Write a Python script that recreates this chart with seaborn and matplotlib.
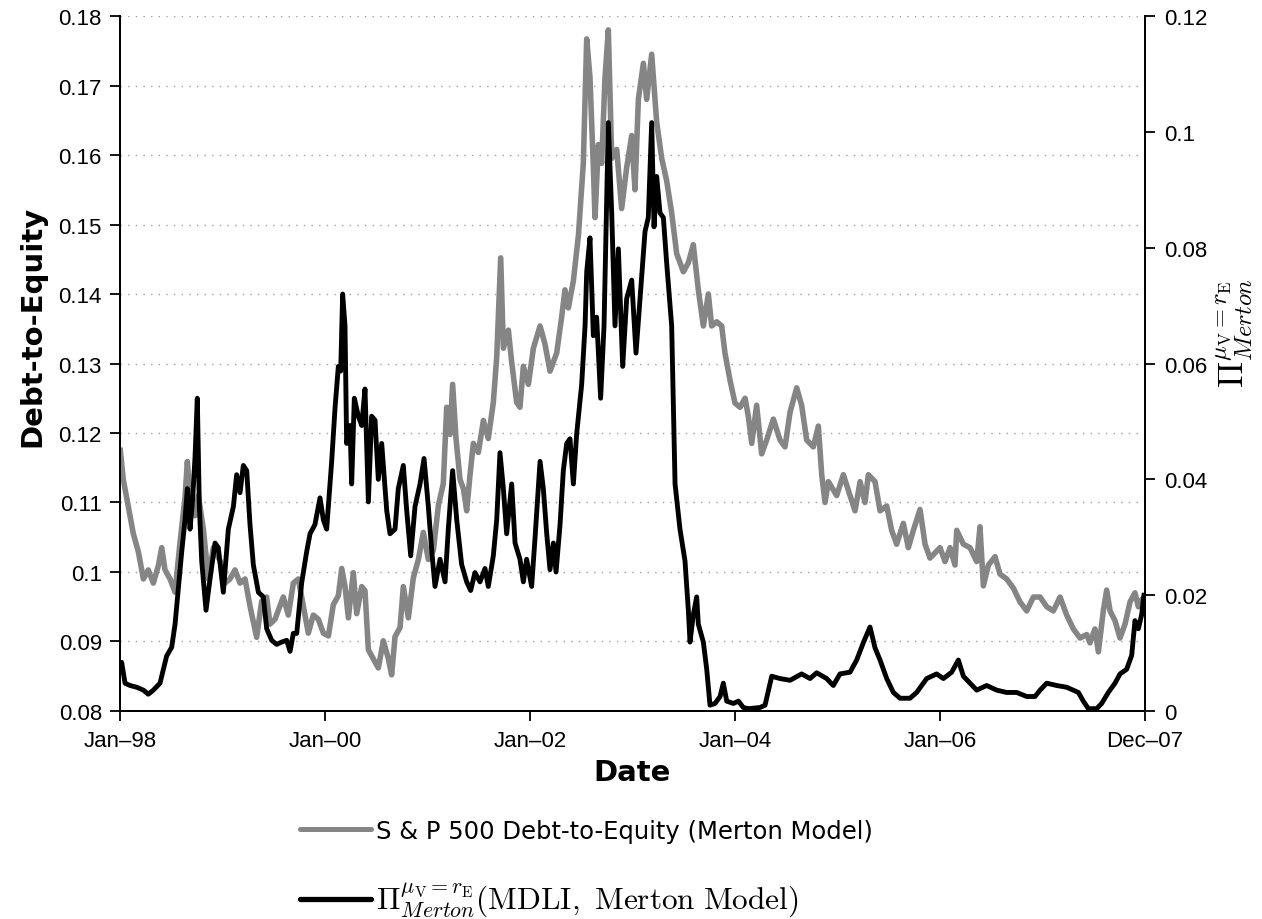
import numpy as np
import pandas as pd
import matplotlib
matplotlib.use("Agg")
import matplotlib.pyplot as plt
import seaborn as sns
from matplotlib.lines import Line2D
from matplotlib.ticker import FixedLocator, FixedFormatter

# ---------------- data ----------------
de_years = [
    1998.000, 1998.032, 1998.081, 1998.130, 1998.179, 1998.228, 1998.276, 1998.325, 1998.374, 1998.407,
    1998.439, 1998.488, 1998.537, 1998.585, 1998.634, 1998.657, 1998.683, 1998.732, 1998.764, 1998.813,
    1998.862, 1998.911, 1998.976,
    1999.024, 1999.073, 1999.122, 1999.171, 1999.220, 1999.268, 1999.333, 1999.382, 1999.431, 1999.463,
    1999.512, 1999.545, 1999.593, 1999.642, 1999.691, 1999.740, 1999.789, 1999.837, 1999.886, 1999.935,
    1999.984,
    2000.033, 2000.081, 2000.130, 2000.163, 2000.195, 2000.228, 2000.276, 2000.309, 2000.358, 2000.390,
    2000.423, 2000.472, 2000.520, 2000.569, 2000.618, 2000.650, 2000.683, 2000.732, 2000.764, 2000.813,
    2000.862, 2000.911, 2000.959,
    2001.008, 2001.057, 2001.106, 2001.154, 2001.187, 2001.220, 2001.245, 2001.278, 2001.317, 2001.350,
    2001.382, 2001.415, 2001.447, 2001.496, 2001.545, 2001.593, 2001.642, 2001.675, 2001.714, 2001.740,
    2001.789, 2001.821, 2001.870, 2001.902, 2001.935, 2001.984,
    2002.033, 2002.098, 2002.146, 2002.195, 2002.260, 2002.309, 2002.341, 2002.374, 2002.423, 2002.472,
    2002.520, 2002.553, 2002.585, 2002.618, 2002.634, 2002.667, 2002.699, 2002.732, 2002.764, 2002.797,
    2002.846, 2002.894, 2002.943, 2002.992,
    2003.024, 2003.057, 2003.106, 2003.138, 2003.187, 2003.236, 2003.285, 2003.333, 2003.382, 2003.431,
    2003.496, 2003.545, 2003.593, 2003.642, 2003.691, 2003.740, 2003.772, 2003.821, 2003.870, 2003.902,
    2003.951,
    2004.000, 2004.049, 2004.098, 2004.130, 2004.163, 2004.211, 2004.260, 2004.309, 2004.374, 2004.439,
    2004.488, 2004.537, 2004.602, 2004.650, 2004.699, 2004.764, 2004.813, 2004.846, 2004.878, 2004.911,
    2004.992,
    2005.057, 2005.122, 2005.171, 2005.220, 2005.268, 2005.301, 2005.366, 2005.415, 2005.480, 2005.528,
    2005.577, 2005.642, 2005.691, 2005.740, 2005.805, 2005.854, 2005.902,
    2006.000, 2006.049, 2006.098, 2006.146, 2006.163, 2006.228, 2006.293, 2006.358, 2006.390, 2006.423,
    2006.472, 2006.537, 2006.585, 2006.650, 2006.715, 2006.780, 2006.846, 2006.911, 2006.976,
    2007.041, 2007.106, 2007.171, 2007.236, 2007.301, 2007.366, 2007.431, 2007.463, 2007.512, 2007.545,
    2007.593, 2007.626, 2007.659, 2007.707, 2007.756, 2007.805, 2007.854, 2007.902, 2007.935, 2007.967,
    2008.000,
]
de_values = [
    0.1179, 0.1133, 0.1094, 0.1055, 0.1029, 0.0990, 0.1003, 0.0984, 0.1009, 0.1035,
    0.1003, 0.0990, 0.0971, 0.1042, 0.1107, 0.1159, 0.1107, 0.1081, 0.1110, 0.1062,
    0.0990, 0.1035, 0.1016,
    0.0984, 0.0990, 0.1003, 0.0984, 0.0990, 0.0951, 0.0906, 0.0958, 0.0964, 0.0925,
    0.0932, 0.0945, 0.0964, 0.0938, 0.0984, 0.0990, 0.0951, 0.0912, 0.0938, 0.0932,
    0.0912,
    0.0908, 0.0953, 0.0966, 0.1005, 0.0979, 0.0934, 0.0999, 0.0940, 0.0979, 0.0973,
    0.0888, 0.0875, 0.0862, 0.0901, 0.0875, 0.0852, 0.0907, 0.0920, 0.0979, 0.0934,
    0.0992, 0.1018, 0.1057,
    0.1018, 0.1031, 0.1096, 0.1127, 0.1237, 0.1198, 0.1270, 0.1192, 0.1133, 0.1120,
    0.1088, 0.1140, 0.1185, 0.1172, 0.1218, 0.1192, 0.1244, 0.1309, 0.1452, 0.1322,
    0.1348, 0.1302, 0.1244, 0.1237, 0.1296, 0.1270,
    0.1322, 0.1354, 0.1328, 0.1289, 0.1315, 0.1367, 0.1406, 0.1380, 0.1419, 0.1484,
    0.1588, 0.1767, 0.1712, 0.1582, 0.1510, 0.1615, 0.1588, 0.1712, 0.1780, 0.1595,
    0.1608, 0.1523, 0.1582, 0.1628,
    0.1550, 0.1680, 0.1732, 0.1680, 0.1745, 0.1647, 0.1595, 0.1563, 0.1517, 0.1458,
    0.1432, 0.1445, 0.1471, 0.1406, 0.1354, 0.1400, 0.1354, 0.1360, 0.1354, 0.1315,
    0.1276,
    0.1243, 0.1237, 0.1250, 0.1224, 0.1185, 0.1240, 0.1170, 0.1190, 0.1220, 0.1190,
    0.1180, 0.1230, 0.1265, 0.1240, 0.1190, 0.1180, 0.1210, 0.1140, 0.1100, 0.1130,
    0.1110,
    0.1140, 0.1110, 0.1088, 0.1130, 0.1100, 0.1140, 0.1130, 0.1088, 0.1095, 0.1060,
    0.1040, 0.1070, 0.1035, 0.1060, 0.1090, 0.1040, 0.1020,
    0.1035, 0.1015, 0.1035, 0.1010, 0.1060, 0.1040, 0.1035, 0.1015, 0.1065, 0.0980,
    0.1010, 0.1022, 0.0997, 0.0990, 0.0977, 0.0957, 0.0944, 0.0964, 0.0964,
    0.0950, 0.0944, 0.0964, 0.0938, 0.0918, 0.0905, 0.0910, 0.0898, 0.0918, 0.0885,
    0.0944, 0.0974, 0.0944, 0.0930, 0.0905, 0.0925, 0.0957, 0.0970, 0.0950, 0.0960,
    0.0964,
]

mdli_years = [
    1998.000, 1998.016, 1998.049, 1998.098, 1998.163, 1998.228, 1998.276, 1998.325, 1998.390, 1998.423,
    1998.455, 1998.504, 1998.537, 1998.569, 1998.602, 1998.634, 1998.657, 1998.683, 1998.709, 1998.732,
    1998.754, 1998.774, 1998.797, 1998.839, 1998.878, 1998.927, 1998.959,
    1999.008, 1999.057, 1999.106, 1999.138, 1999.171, 1999.203, 1999.236, 1999.268, 1999.301, 1999.350,
    1999.398, 1999.431, 1999.480, 1999.528, 1999.577, 1999.626, 1999.659, 1999.691, 1999.724, 1999.772,
    1999.821, 1999.854, 1999.902, 1999.951, 1999.984,
    2000.016, 2000.065, 2000.098, 2000.130, 2000.153, 2000.172, 2000.195, 2000.211, 2000.244, 2000.260,
    2000.286, 2000.325, 2000.358, 2000.390, 2000.423, 2000.455, 2000.488, 2000.520, 2000.553, 2000.602,
    2000.634, 2000.683, 2000.715, 2000.764, 2000.797, 2000.836, 2000.878, 2000.927, 2000.966,
    2001.008, 2001.041, 2001.073, 2001.122, 2001.171, 2001.203, 2001.245, 2001.285, 2001.333, 2001.382,
    2001.421, 2001.463, 2001.512, 2001.561, 2001.593, 2001.642, 2001.675, 2001.707, 2001.740, 2001.772,
    2001.821, 2001.854, 2001.902, 2001.935, 2001.967,
    2002.016, 2002.049, 2002.098, 2002.130, 2002.163, 2002.195, 2002.228, 2002.254, 2002.293, 2002.325,
    2002.358, 2002.390, 2002.423, 2002.455, 2002.504, 2002.537, 2002.553, 2002.585, 2002.618, 2002.650,
    2002.689, 2002.722, 2002.764, 2002.797, 2002.829, 2002.862, 2002.904, 2002.943, 2002.992,
    2003.034, 2003.073, 2003.122, 2003.154, 2003.187, 2003.210, 2003.236, 2003.268, 2003.301, 2003.333,
    2003.382, 2003.415, 2003.463, 2003.512, 2003.545, 2003.561, 2003.593, 2003.626, 2003.642, 2003.691,
    2003.724, 2003.756, 2003.805, 2003.854, 2003.886, 2003.919, 2003.984,
    2004.033, 2004.081, 2004.130, 2004.244, 2004.293, 2004.358, 2004.439, 2004.537, 2004.650, 2004.732,
    2004.797, 2004.894, 2004.959,
    2005.024, 2005.122, 2005.187, 2005.252, 2005.317, 2005.366, 2005.415, 2005.480, 2005.545, 2005.610,
    2005.707, 2005.772, 2005.870, 2005.967,
    2006.033, 2006.114, 2006.179, 2006.228, 2006.293, 2006.358, 2006.455, 2006.553, 2006.650, 2006.748,
    2006.846, 2006.927, 2006.976,
    2007.041, 2007.138, 2007.236, 2007.350, 2007.398, 2007.447, 2007.528, 2007.577, 2007.642, 2007.707,
    2007.756, 2007.821, 2007.870, 2007.902, 2007.935, 2007.967, 2007.992,
]
mdli_values = [
    0.0076, 0.0084, 0.0048, 0.0044, 0.0041, 0.0036, 0.0029, 0.0036, 0.0048, 0.0072,
    0.0095, 0.0110, 0.0150, 0.0212, 0.0275, 0.0330, 0.0384, 0.0314, 0.0368, 0.0439,
    0.0540, 0.0353, 0.0259, 0.0174, 0.0228, 0.0290, 0.0282,
    0.0205, 0.0314, 0.0353, 0.0408, 0.0377, 0.0424, 0.0415, 0.0322, 0.0252, 0.0205,
    0.0197, 0.0142, 0.0122, 0.0115, 0.0119, 0.0122, 0.0103, 0.0134, 0.0134, 0.0221,
    0.0275, 0.0306, 0.0322, 0.0368, 0.0330,
    0.0314, 0.0431, 0.0524, 0.0595, 0.0587, 0.0720, 0.0665, 0.0462, 0.0493, 0.0392,
    0.0540, 0.0509, 0.0493, 0.0556, 0.0361, 0.0509, 0.0502, 0.0400, 0.0462, 0.0346,
    0.0306, 0.0314, 0.0384, 0.0424, 0.0346, 0.0268, 0.0353, 0.0392, 0.0436,
    0.0353, 0.0277, 0.0215, 0.0262, 0.0223, 0.0314, 0.0415, 0.0330, 0.0253, 0.0223,
    0.0208, 0.0239, 0.0223, 0.0246, 0.0215, 0.0268, 0.0330, 0.0446, 0.0384, 0.0306,
    0.0392, 0.0290, 0.0262, 0.0223, 0.0262,
    0.0215, 0.0299, 0.0431, 0.0384, 0.0306, 0.0244, 0.0290, 0.0240, 0.0322, 0.0415,
    0.0462, 0.0470, 0.0392, 0.0478, 0.0564, 0.0665, 0.0758, 0.0817, 0.0648, 0.0680,
    0.0540, 0.0665, 0.1016, 0.0860, 0.0665, 0.0798, 0.0595, 0.0712, 0.0744,
    0.0618, 0.0712, 0.0828, 0.0852, 0.1016, 0.0836, 0.0923, 0.0860, 0.0852, 0.0774,
    0.0665, 0.0392, 0.0314, 0.0259, 0.0173, 0.0119, 0.0166, 0.0197, 0.0150, 0.0119,
    0.0072, 0.0010, 0.0013, 0.0025, 0.0048, 0.0017, 0.0013,
    0.0017, 0.0006, 0.0004, 0.0006, 0.0010, 0.0060, 0.0056, 0.0053, 0.0064, 0.0056,
    0.0066, 0.0056, 0.0044,
    0.0064, 0.0067, 0.0088, 0.0118, 0.0145, 0.0109, 0.0088, 0.0056, 0.0032, 0.0022,
    0.0022, 0.0032, 0.0056, 0.0064,
    0.0056, 0.0067, 0.0088, 0.0060, 0.0048, 0.0036, 0.0044, 0.0036, 0.0032, 0.0032,
    0.0025, 0.0025, 0.0036,
    0.0048, 0.0044, 0.0041, 0.0032, 0.0017, 0.0004, 0.0004, 0.0013, 0.0032, 0.0048,
    0.0064, 0.0072, 0.0096, 0.0156, 0.0142, 0.0166, 0.0204,
]

x_tick_positions = [1998, 2000, 2002, 2004, 2006, 2008]
x_tick_labels = ["Jan\u201398", "Jan\u201300", "Jan\u201302", "Jan\u201304", "Jan\u201306", "Dec\u201307"]
left_ticks = [0.08, 0.09, 0.10, 0.11, 0.12, 0.13, 0.14, 0.15, 0.16, 0.17, 0.18]
left_tick_labels = ["0.08", "0.09", "0.1", "0.11", "0.12", "0.13", "0.14", "0.15", "0.16", "0.17", "0.18"]
right_ticks = [0.0, 0.02, 0.04, 0.06, 0.08, 0.10, 0.12]
right_tick_labels = ["0", "0.02", "0.04", "0.06", "0.08", "0.1", "0.12"]

de_label = "S & P 500 Debt-to-Equity (Merton Model)"
mdli_label = r"$\Pi^{\mu_{\mathrm{V}}=r_{\mathrm{E}}}_{Merton}(\mathrm{MDLI,\ Merton\ Model})$"
right_ylabel = r"$\Pi^{\mu_{\mathrm{V}}=r_{\mathrm{E}}}_{Merton}$"

# ---------------- style ----------------
sns.set_theme(style="white")
plt.rcParams["font.family"] = ["Liberation Sans", "DejaVu Sans"]
plt.rcParams["mathtext.fontset"] = "cm"

GRAY = "#858585"

fig = plt.figure(figsize=(12.62, 9.2), dpi=100)
ax = fig.add_axes([0.0951, 0.2261, 0.8122, 0.7554])

de_df = pd.DataFrame({"year": de_years, "value": de_values})
mdli_df = pd.DataFrame({"year": mdli_years, "value": mdli_values})

sns.lineplot(data=de_df, x="year", y="value", ax=ax, color=GRAY, linewidth=4.0,
             estimator=None, sort=False, legend=False)
ax2 = ax.twinx()
sns.lineplot(data=mdli_df, x="year", y="value", ax=ax2, color="black", linewidth=3.5,
             estimator=None, sort=False, legend=False)

for a in (ax, ax2):
    for ln in a.get_lines():
        ln.set_solid_joinstyle("round")
        ln.set_solid_capstyle("butt")

ax.set_xlim(1998, 2008)
ax.set_ylim(0.08, 0.18)
ax2.set_ylim(0.0, 0.12)

ax.xaxis.set_major_locator(FixedLocator(x_tick_positions))
ax.xaxis.set_major_formatter(FixedFormatter(x_tick_labels))
ax.yaxis.set_major_locator(FixedLocator(left_ticks))
ax.yaxis.set_major_formatter(FixedFormatter(left_tick_labels))
ax2.yaxis.set_major_locator(FixedLocator(right_ticks))
ax2.yaxis.set_major_formatter(FixedFormatter(right_tick_labels))

# grid: dotted horizontal lines at left ticks
ax.yaxis.grid(True, linestyle=(0, (1, 4.5)), color="#a0a0a0", linewidth=1.0)
ax.xaxis.grid(False)
ax2.grid(False)

for a in (ax, ax2):
    a.spines["top"].set_visible(False)
    for s in ("left", "right", "bottom"):
        a.spines[s].set_color("black")
        a.spines[s].set_linewidth(1.3)

ax.tick_params(axis="x", which="major", direction="out", length=7, width=1.3,
               color="black", labelsize=16, pad=7, bottom=True, top=False, labelcolor="black")
ax.tick_params(axis="y", which="major", direction="out", length=7, width=1.3,
               color="black", labelsize=16, pad=6, left=True, right=False, labelcolor="black")
ax2.tick_params(axis="y", which="major", direction="out", length=7, width=1.3,
                color="black", labelsize=16, pad=7, right=True, left=False, labelcolor="black")

ax.set_xlabel("Date", fontsize=21, fontweight="bold", family="DejaVu Sans", color="black")
ax.xaxis.set_label_coords(0.5, -0.068)
ax.set_ylabel("Debt-to-Equity", fontsize=21, fontweight="bold", family="DejaVu Sans", color="black")
ax.yaxis.set_label_coords(-0.072, 0.555)
ax2.set_ylabel(right_ylabel, fontsize=25, color="black")
ax2.yaxis.set_label_coords(1.068, 0.545)

handles = [Line2D([0], [0], color=GRAY, linewidth=3.6),
           Line2D([0], [0], color="black", linewidth=3.8)]
leg = fig.legend(handles, [de_label, mdli_label], loc="upper left",
                 bbox_to_anchor=(300 / 1262, 1 - 820 / 920), frameon=False,
                 fontsize=18, handlelength=2.85, handletextpad=0.2, labelspacing=1.5,
                 borderpad=0.0, borderaxespad=0.0)
for t in leg.get_texts():
    t.set_color("black")
leg.get_texts()[0].set_family("DejaVu Sans")
leg.get_texts()[0].set_fontsize(17.5)
leg.get_texts()[1].set_fontsize(22.5)

fig.savefig("out.png", dpi=100, facecolor="white")
